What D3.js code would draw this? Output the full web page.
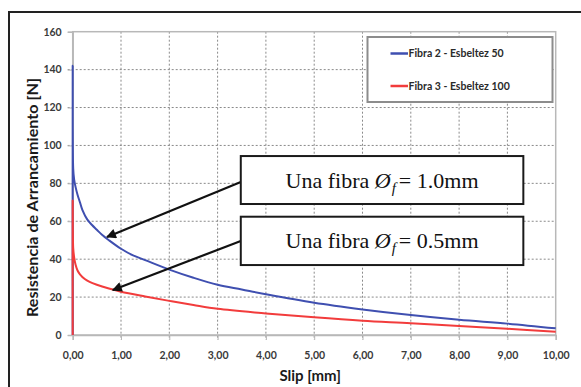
<!DOCTYPE html>
<html>
<head>
<meta charset="utf-8">
<script src="https://cdn.jsdelivr.net/npm/d3@7"></script>
<style>
  body { margin: 0; background: #fff; }
  svg { display: block; }
</style>
</head>
<body>
<div id="chart"></div>
<script>
const chart_width = 581;
const chart_height = 387;

// data
const x_ticks = [0, 1, 2, 3, 4, 5, 6, 7, 8, 9, 10];
const y_ticks = [0, 20, 40, 60, 80, 100, 120, 140, 160];

const blue_x = [0, 0, 0.01, 0.03, 0.06, 0.1, 0.15, 0.2, 0.3, 0.4, 0.5, 0.6, 0.75, 1, 1.25, 1.5, 2, 2.5, 3, 3.5, 4, 5, 6, 7, 8, 9, 10];
const blue_y = [0, 142, 88, 82, 78, 74, 70, 66, 61, 58, 55.5, 53, 50, 45.5, 42, 39.5, 34.5, 30.2, 26.5, 24, 21.5, 17, 13.5, 10.5, 8, 6, 3.5];

const red_x = [0, 0, 0.01, 0.03, 0.06, 0.1, 0.15, 0.25, 0.35, 0.5, 0.75, 1, 1.5, 2, 2.5, 3, 4, 5, 6, 7, 8, 9, 10];
const red_y = [0, 71, 46, 41, 37, 34, 32, 29.5, 28, 26.5, 24.5, 22.8, 20.3, 18, 15.8, 13.8, 11.4, 9.3, 7.5, 6.2, 4.7, 3.3, 1.7];

const series_names = ['Fibra 2 - Esbeltez 50', 'Fibra 3 - Esbeltez 100'];
const series_colors = ['#3f4fb0', '#f23c3c'];

// annotation boxes (data units): label, box x0, x1, y top, y bottom, arrow start, arrow tip
const note_labels = ['1.0mm', '0.5mm'];
const note_boxes = [[3.48, 9.33, 94.4, 69.1], [3.48, 9.33, 62.4, 36.9]];
const note_arrows = [[3.48, 80.7, 0.71, 51.7], [3.48, 49.6, 0.83, 23.7]];

const margin = { left: 72.7, top: 31.7, right: 581 - 555.7, bottom: 387 - 335 };

const svg = d3.select('#chart')
    .append('svg')
    .attr('width', chart_width)
    .attr('height', chart_height);

// outer frame (only top and left visible)
svg.append('path')
    .attr('d', 'M9,387 V12 H581')
    .attr('fill', 'none')
    .attr('stroke', '#222')
    .attr('stroke-width', 2);

const x_scale = d3.scaleLinear()
    .domain([0, 10])
    .range([margin.left, chart_width - margin.right]);

const y_scale = d3.scaleLinear()
    .domain([0, 160])
    .range([chart_height - margin.bottom, margin.top]);

// grid
svg.append('g')
    .selectAll('line')
    .data(x_ticks.slice(1, -1))
    .enter()
    .append('line')
    .attr('x1', d => x_scale(d))
    .attr('x2', d => x_scale(d))
    .attr('y1', y_scale(160))
    .attr('y2', y_scale(0) + 5)
    .attr('stroke', '#8a8a8a')
    .attr('stroke-dasharray', '2,2');

svg.append('g')
    .selectAll('line')
    .data(y_ticks.slice(1, -1))
    .enter()
    .append('line')
    .attr('x1', x_scale(0) - 5)
    .attr('x2', x_scale(10))
    .attr('y1', d => y_scale(d))
    .attr('y2', d => y_scale(d))
    .attr('stroke', '#8a8a8a')
    .attr('stroke-dasharray', '2,2');

// plot frame
svg.append('rect')
    .attr('x', x_scale(0))
    .attr('y', y_scale(160))
    .attr('width', x_scale(10) - x_scale(0))
    .attr('height', y_scale(0) - y_scale(160))
    .attr('fill', 'none')
    .attr('stroke', '#b8b8b8')
    .attr('stroke-width', 1.5);

// axes
const x_axis = d3.axisBottom(x_scale)
    .tickValues(x_ticks)
    .tickSize(5)
    .tickFormat(d => d3.format('.2f')(d).replace('.', ','));

svg.append('g')
    .attr('class', 'x-axis')
    .attr('transform', 'translate(0,' + y_scale(0) + ')')
    .call(x_axis);

const y_axis = d3.axisLeft(y_scale)
    .tickValues(y_ticks)
    .tickSize(5);

svg.append('g')
    .attr('class', 'y-axis')
    .attr('transform', 'translate(' + x_scale(0) + ',0)')
    .call(y_axis);

svg.selectAll('.x-axis .domain, .y-axis .domain')
    .attr('stroke', '#b8b8b8')
    .attr('stroke-width', 1.5);
svg.selectAll('.x-axis .tick line, .y-axis .tick line')
    .attr('stroke', '#b8b8b8');
svg.selectAll('.x-axis text, .y-axis text')
    .attr('fill', '#3a3a3a')
    .style('font-family', 'Lato, sans-serif')
    .style('font-weight', 'bold')
    .style('font-size', '10.5px');
svg.selectAll('.x-axis text').attr('dy', '1.5em');
svg.selectAll('.y-axis text').attr('x', -11);

// curves
const line = d3.line()
    .x(d => x_scale(d[0]))
    .y(d => y_scale(d[1]))
    .curve(d3.curveCatmullRom.alpha(0.5));

const blue_data = blue_x.map((x, i) => [x, blue_y[i]]);
const red_data = red_x.map((x, i) => [x, red_y[i]]);

[blue_data, red_data].forEach((data, i) => {
    svg.append('path')
        .datum(data)
        .attr('d', line)
        .attr('fill', 'none')
        .attr('stroke', series_colors[i])
        .attr('stroke-width', 2)
        .attr('stroke-linejoin', 'round');
});

// legend
const legend = svg.append('g');
legend.append('rect')
    .attr('x', 367.5)
    .attr('y', 37)
    .attr('width', 185)
    .attr('height', 65)
    .attr('fill', '#fff')
    .attr('stroke', '#8c8c8c')
    .attr('stroke-width', 2);

series_names.forEach((name, i) => {
    const ly = 53.5 + i * 32.5;
    legend.append('line')
        .attr('x1', 390.5)
        .attr('x2', 408)
        .attr('y1', ly)
        .attr('y2', ly)
        .attr('stroke', series_colors[i])
        .attr('stroke-width', 2.5);
    legend.append('text')
        .attr('x', 408.5)
        .attr('y', ly + 3.5)
        .text(name)
        .attr('fill', '#2a2a2a')
        .style('font-family', 'Lato, sans-serif')
        .style('font-weight', 'bold')
        .style('font-size', '10.5px');
});

// annotations
svg.append('defs').append('marker')
    .attr('id', 'arrow')
    .attr('viewBox', '0 0 10 10')
    .attr('refX', 9)
    .attr('refY', 5)
    .attr('markerWidth', 6)
    .attr('markerHeight', 4.5)
    .attr('markerUnits', 'strokeWidth')
    .attr('orient', 'auto')
    .append('path')
    .attr('d', 'M0,0 L10,5 L0,10 Z')
    .attr('fill', '#111');

note_arrows.forEach(a => {
    svg.append('line')
        .attr('x1', x_scale(a[0]))
        .attr('y1', y_scale(a[1]))
        .attr('x2', x_scale(a[2]))
        .attr('y2', y_scale(a[3]))
        .attr('stroke', '#111')
        .attr('stroke-width', 2.2)
        .attr('marker-end', 'url(#arrow)');
});

note_boxes.forEach((b, i) => {
    const bx = x_scale(b[0]);
    const by = y_scale(b[2]);
    const bw = x_scale(b[1]) - bx;
    const bh = y_scale(b[3]) - by;
    svg.append('rect')
        .attr('x', bx)
        .attr('y', by)
        .attr('width', bw)
        .attr('height', bh)
        .attr('fill', '#fff')
        .attr('stroke', '#1a1a1a')
        .attr('stroke-width', 2);
    const t = svg.append('text')
        .attr('x', bx + bw / 2)
        .attr('y', by + bh / 2 + 7.5)
        .attr('text-anchor', 'middle')
        .attr('fill', '#111')
        .style('font-family', '"Liberation Serif", "Times New Roman", serif')
        .style('font-size', '22px');
    t.append('tspan').text('Una fibra ');
    t.append('tspan').text('Ø').style('font-style', 'italic');
    t.append('tspan').text('f').style('font-style', 'italic')
        .style('font-size', '15px').attr('dy', 5).attr('dx', 1);
    t.append('tspan').text('= ' + note_labels[i]).attr('dy', -5).attr('dx', 3);
});

// axis titles
svg.append('text')
    .attr('x', (x_scale(0) + x_scale(10)) / 2 - 4)
    .attr('y', 381)
    .attr('text-anchor', 'middle')
    .text('Slip [mm]')
    .attr('fill', '#1a1a1a')
    .style('font-family', 'Lato, sans-serif')
    .style('font-weight', 'bold')
    .style('font-size', '15px');

svg.append('text')
    .attr('transform', 'translate(38,' + 197.5 + ') rotate(-90)')
    .attr('text-anchor', 'middle')
    .attr('textLength', 239)
    .attr('lengthAdjust', 'spacingAndGlyphs')
    .text('Resistencia de Arrancamiento [N]')
    .attr('fill', '#1a1a1a')
    .style('font-family', 'Lato, sans-serif')
    .style('font-weight', 'bold')
    .style('font-size', '15px');
</script>
</body>
</html>
